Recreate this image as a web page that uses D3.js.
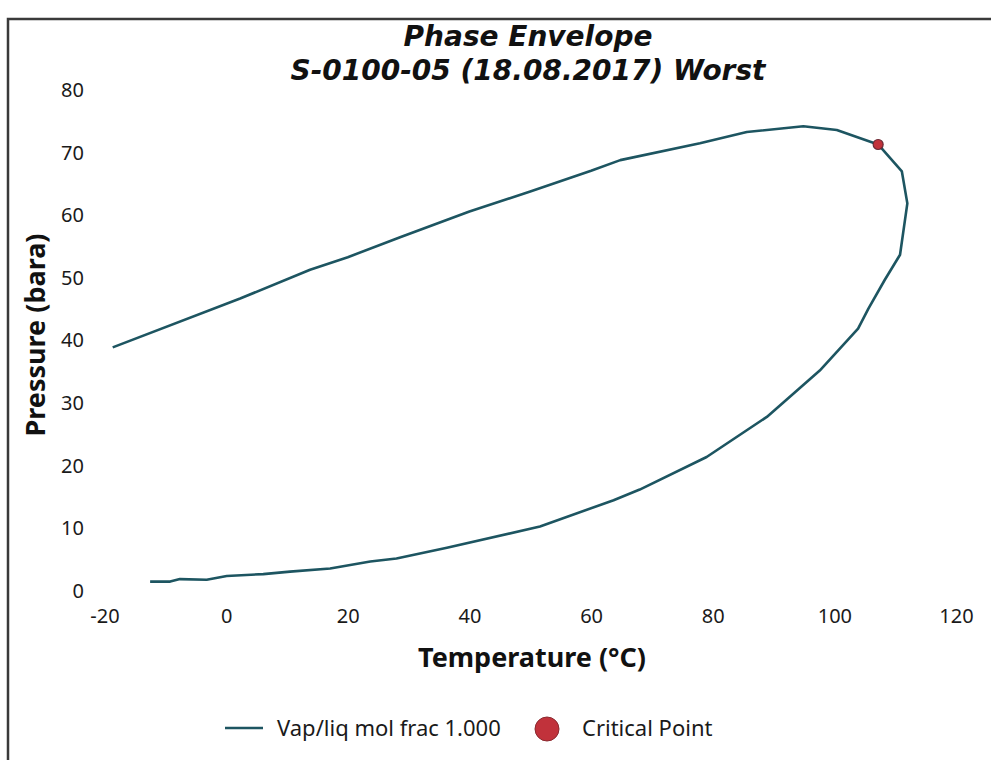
<!DOCTYPE html>
<html>
<head>
<meta charset="utf-8">
<script src="https://cdn.jsdelivr.net/npm/d3@7"></script>
<style>
  html, body { margin: 0; padding: 0; background: #ffffff; }
  svg { display: block; }
</style>
</head>
<body>
<svg id="chart" width="991" height="760"></svg>
<script>
// ---- Data ----
const titleLines = ["Phase Envelope", "S-0100-05 (18.08.2017) Worst"];
const xTicks = [-20, 0, 20, 40, 60, 80, 100, 120];
const yTicks = [0, 10, 20, 30, 40, 50, 60, 70, 80];
const envelopeTemp = [-18.65, 2.3, 13.8, 20.0, 28.6, 40.0, 50.0, 60.0, 64.8, 77.9, 85.6, 94.9, 100.4, 107.2, 111.1, 112.0, 110.8, 108.3, 105.6, 103.9, 97.6, 88.9, 79.0, 68.0, 63.7, 51.6, 36.3, 28.0, 23.7, 17.1, 10.5, 6.1, 0.1, -3.2, -7.6, -9.2, -12.5];
const envelopePres = [38.9, 46.7, 51.3, 53.3, 56.5, 60.6, 63.8, 67.1, 68.8, 71.5, 73.3, 74.2, 73.6, 71.3, 67.0, 61.9, 53.7, 49.7, 45.1, 41.9, 35.2, 27.8, 21.4, 16.2, 14.5, 10.3, 6.9, 5.2, 4.7, 3.6, 3.1, 2.7, 2.4, 1.8, 1.9, 1.5, 1.5];
const criticalTemp = [107.2];
const criticalPres = [71.3];
const seriesNames = ["Vap/liq mol frac 1.000", "Critical Point"];

// ---- Drawing ----
const svg = d3.select("#chart");
const lineColor = "#1d5561";
const critColor = "#c1323b";
const font = "'Noto Sans', 'Open Sans', sans-serif";

// photo frame
svg.append("path")
  .attr("d", "M8,770 L8,19 L1000,19")
  .attr("fill", "none").attr("stroke", "#3a3a3a").attr("stroke-width", 2.5);

const x = d3.scaleLinear().domain([-20, 120]).range([104.5, 956]);
const y = d3.scaleLinear().domain([0, 80]).range([591, 90]);

// titles
svg.selectAll("text.title").data(titleLines).enter().append("text")
  .attr("class", "title")
  .attr("x", 528).attr("y", (d, i) => 46 + i * 34)
  .attr("text-anchor", "middle")
  .attr("font-family", "'DejaVu Sans', Verdana, sans-serif")
  .attr("font-weight", "bold").attr("font-style", "italic")
  .attr("font-size", 28)
  .attr("fill", "#111")
  .text(d => d);

// axes
const xAxis = svg.append("g").attr("transform", "translate(0,606)")
  .call(d3.axisBottom(x).tickValues(xTicks).tickSize(0).tickFormat(d => String(d)));
const yAxis = svg.append("g").attr("transform", "translate(87,0)")
  .call(d3.axisLeft(y).tickValues(yTicks).tickSize(0).tickFormat(d => String(d)));
[xAxis, yAxis].forEach(g => {
  g.select(".domain").remove();
  g.selectAll("text").attr("font-family", font).attr("font-size", 20).attr("fill", "#1a1a1a");
});

// axis titles
svg.append("text")
  .attr("x", 532).attr("y", 667)
  .attr("text-anchor", "middle")
  .attr("font-family", font).attr("font-weight", "bold").attr("font-size", 27)
  .attr("fill", "#111")
  .text("Temperature (°C)");
svg.append("text")
  .attr("transform", "translate(45,335) rotate(-90)")
  .attr("text-anchor", "middle")
  .attr("font-family", font).attr("font-weight", "bold").attr("font-size", 27)
  .attr("fill", "#111")
  .text("Pressure (bara)");

// envelope line
const pts = envelopeTemp.map((t, i) => [t, envelopePres[i]]);
svg.append("path")
  .datum(pts)
  .attr("fill", "none")
  .attr("stroke", lineColor)
  .attr("stroke-width", 2.6)
  .attr("stroke-linejoin", "round")
  .attr("d", d3.line().x(d => x(d[0])).y(d => y(d[1])));

// critical point
svg.selectAll("circle.crit").data(criticalTemp.map((t, i) => [t, criticalPres[i]])).enter()
  .append("circle").attr("class", "crit")
  .attr("cx", d => x(d[0])).attr("cy", d => y(d[1]))
  .attr("r", 5)
  .attr("fill", critColor).attr("stroke", "#6b2a35").attr("stroke-width", 1.2);

// legend
const leg = svg.append("g");
leg.append("line")
  .attr("x1", 225).attr("x2", 263).attr("y1", 728).attr("y2", 728)
  .attr("stroke", lineColor).attr("stroke-width", 2.6);
leg.append("text")
  .attr("x", 277).attr("y", 736)
  .attr("font-family", font).attr("font-size", 22).attr("fill", "#1a1a1a")
  .text(seriesNames[0]);
leg.append("circle")
  .attr("cx", 547).attr("cy", 729).attr("r", 12)
  .attr("fill", critColor).attr("stroke", "#8a2a30").attr("stroke-width", 1);
leg.append("text")
  .attr("x", 582).attr("y", 736)
  .attr("font-family", font).attr("font-size", 22).attr("fill", "#1a1a1a")
  .text(seriesNames[1]);
</script>
</body>
</html>
